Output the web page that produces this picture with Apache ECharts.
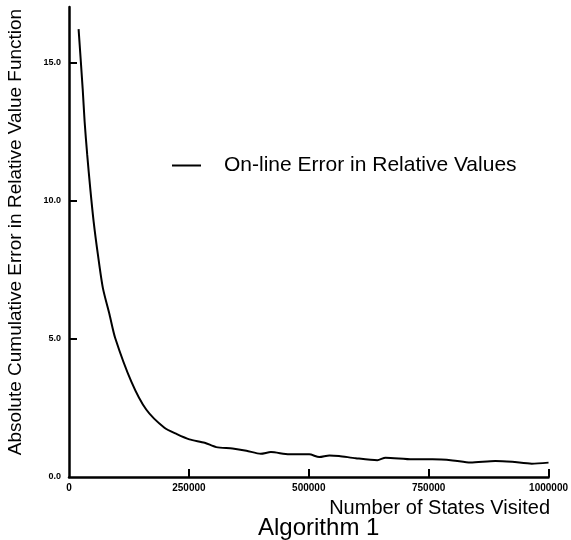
<!DOCTYPE html>
<html>
<head>
<meta charset="utf-8">
<script src="https://cdn.jsdelivr.net/npm/echarts@6/dist/echarts.min.js"></script>
<style>
  html, body { margin: 0; padding: 0; background: #fff; }
  #chart { width: 571px; height: 540px; }
</style>
</head>
<body>
<div id="chart"></div>
<script>
// states visited vs. cumulative error
const statesVisited = [20000, 28500, 32600, 38000, 44300, 51400, 60300, 70700, 84600, 96300,
  130000, 161000, 199000, 225000, 251000, 283000, 307000, 341000, 370000, 400000,
  421000, 459000, 501000, 522000, 543000, 563000, 598000, 643000, 660000, 716000,
  758000, 800000, 837000, 889000, 924000, 965000, 1000000]
const errorValues = [16.2, 14.05, 12.85, 11.65, 10.44, 9.24, 8.04, 6.83, 5.87, 5.03,
  3.45, 2.44, 1.78, 1.55, 1.36, 1.24, 1.08, 1.03, 0.95, 0.84,
  0.9, 0.82, 0.82, 0.72, 0.78, 0.76, 0.68, 0.61, 0.70, 0.64,
  0.64, 0.60, 0.52, 0.58, 0.55, 0.48, 0.52]
const yTicks = [0, 5, 10, 15]
const xTicks = [0, 250000, 500000, 750000, 1000000]
const seriesName = 'On-line Error in Relative Values'

const font = 'Liberation Sans, Arial, Helvetica, sans-serif'
const chart = echarts.init(document.getElementById('chart'))

const option = {
  animation: false,
  backgroundColor: '#fff',
  grid: { left: 69, top: 7, right: 21, bottom: 63 },
  legend: {
    data: [seriesName],
    left: 167,
    top: 150,
    icon: 'rect',
    itemWidth: 29,
    itemHeight: 2,
    textStyle: { color: '#000', fontFamily: font, fontSize: 21, padding: [0, 0, 0, 18] }
  },
  xAxis: {
    type: 'value',
    min: 0,
    max: 1000000,
    interval: 250000,
    splitLine: { show: false },
    axisLine: { lineStyle: { color: '#000', width: 2.5 } },
    axisTick: { inside: true, length: 8, lineStyle: { color: '#000', width: 2 }, customValues: xTicks.slice(1) },
    axisLabel: {
      customValues: xTicks,
      color: '#000', fontFamily: font, fontWeight: 'bold', fontSize: 10, margin: 6,
      formatter: v => String(v)
    }
  },
  yAxis: {
    type: 'value',
    min: 0,
    max: 17,
    splitLine: { show: false },
    axisLine: { show: true, lineStyle: { color: '#000', width: 2.5 } },
    axisTick: { show: true, inside: true, length: 8, lineStyle: { color: '#000', width: 2 }, customValues: yTicks.slice(1) },
    axisLabel: {
      customValues: yTicks,
      color: '#000', fontFamily: font, fontWeight: 'bold', fontSize: 9, margin: 8,
      formatter: v => v.toFixed(1)
    }
  },
  graphic: [
    {
      type: 'text', x: 16, y: 232, rotation: Math.PI / 2,
      style: { text: 'Absolute Cumulative Error in Relative Value Function', fill: '#000',
        font: '19px ' + font, align: 'center', verticalAlign: 'middle' }
    },
    {
      type: 'text', x: 550, y: 508,
      style: { text: 'Number of States Visited', fill: '#000', font: '20px ' + font, align: 'right', verticalAlign: 'middle' }
    },
    {
      type: 'text', x: 258, y: 528,
      style: { text: 'Algorithm 1', fill: '#000', font: '24px ' + font, align: 'left', verticalAlign: 'middle' }
    }
  ],
  series: [{
    name: seriesName,
    type: 'line',
    symbol: 'none',
    smooth: 0.25,
    color: '#000',
    lineStyle: { color: '#000', width: 2 },
    data: statesVisited.map((x, i) => [x, errorValues[i]])
  }]
}

chart.setOption(option)
</script>
</body>
</html>
